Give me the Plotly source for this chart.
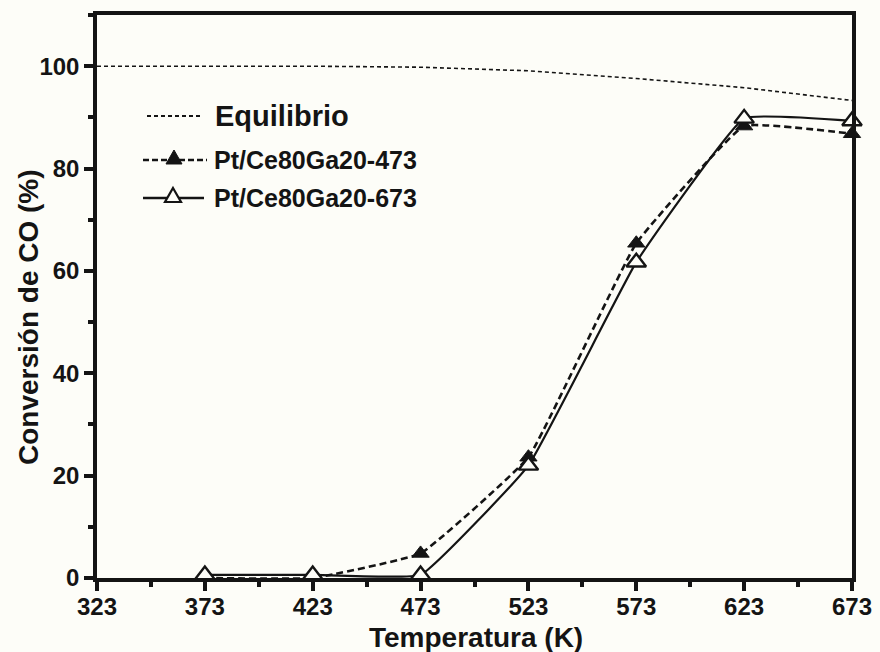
import plotly.graph_objects as go

# Temperature steps (K) and CO conversion (%) for each catalyst
temperatures = [373, 423, 473, 523, 573, 623, 673]
conv_pt_473 = [0.0, 0.0, 4.8, 23.6, 65.4, 88.3, 86.8]
conv_pt_673 = [0.6, 0.6, 0.6, 22.0, 61.7, 89.8, 89.3]

# Thermodynamic equilibrium conversion
eq_temperatures = [323, 373, 423, 473, 523, 573, 623, 673]
eq_conversion = [100.0, 100.0, 100.0, 99.8, 99.1, 97.6, 95.8, 93.3]

x_ticks = [323, 373, 423, 473, 523, 573, 623, 673]
y_ticks = [0, 20, 40, 60, 80, 100]

series_names = ["Equilibrio", "Pt/Ce80Ga20-473", "Pt/Ce80Ga20-673"]

BG = "#fdfdf8"
INK = "#141414"
FONT = "Liberation Sans, Arial, Helvetica, sans-serif"

fig = go.Figure()

fig.add_trace(go.Scatter(
    x=eq_temperatures, y=eq_conversion, mode="lines",
    line=dict(color=INK, width=1.6, dash="4px,3px"),
    name=series_names[0], showlegend=False, cliponaxis=True,
))

# Pt/Ce80Ga20-473: dashed line, filled triangles where conversion is measurable
fig.add_trace(go.Scatter(
    x=temperatures, y=conv_pt_473, mode="lines",
    line=dict(color=INK, width=2.6, dash="7px,4px", shape="spline", smoothing=0.3),
    showlegend=False, cliponaxis=True,
))
fig.add_trace(go.Scatter(
    x=[t for t, v in zip(temperatures, conv_pt_473) if v > 0],
    y=[v for v in conv_pt_473 if v > 0],
    mode="markers",
    marker=dict(symbol="triangle-up", size=15, color=INK, line=dict(color=INK, width=1)),
    name=series_names[1], showlegend=False, cliponaxis=False,
))

# Pt/Ce80Ga20-673: solid line, open triangles
fig.add_trace(go.Scatter(
    x=temperatures, y=conv_pt_673, mode="lines+markers",
    line=dict(color=INK, width=2.2, shape="spline", smoothing=0.3),
    marker=dict(symbol="triangle-up", size=17, color=BG, line=dict(color=INK, width=2.4)),
    name=series_names[2], showlegend=False, cliponaxis=False,
))

# Plot-area geometry in pixels, used to place the hand-built legend and axis titles
L, R, T, B = 97, 852, 15, 578


def px(x):
    return (x - L) / (R - L)


def py(y):
    return (B - y) / (B - T)


def tri_path(cx, cy, half_w=8, up=9, down=5):
    pts = [(cx, cy - up), (cx + half_w, cy + down), (cx - half_w, cy + down)]
    return "M " + " L ".join(f"{px(a):.5f},{py(b):.5f}" for a, b in pts) + " Z"


shapes = [
    dict(type="line", xref="paper", yref="paper", x0=px(147), x1=px(202), y0=py(116), y1=py(116),
         line=dict(color=INK, width=2, dash="4px,3px")),
    dict(type="line", xref="paper", yref="paper", x0=px(143), x1=px(207), y0=py(160), y1=py(160),
         line=dict(color=INK, width=2.4, dash="6px,3px")),
    dict(type="path", xref="paper", yref="paper", path=tri_path(174, 159),
         fillcolor=INK, line=dict(color=INK, width=1)),
    dict(type="line", xref="paper", yref="paper", x0=px(143), x1=px(204), y0=py(198), y1=py(198),
         line=dict(color=INK, width=2.4)),
    dict(type="path", xref="paper", yref="paper", path=tri_path(173, 197),
         fillcolor=BG, line=dict(color=INK, width=2.2)),
]

bold = lambda s: dict(size=s, family=FONT, color=INK, weight="bold")

annotations = [
    dict(x=px(213), y=py(116), xref="paper", yref="paper", text=series_names[0], showarrow=False,
         xanchor="left", yanchor="middle", font=bold(29)),
    dict(x=px(212), y=py(160), xref="paper", yref="paper", text=series_names[1], showarrow=False,
         xanchor="left", yanchor="middle", font=bold(25)),
    dict(x=px(212), y=py(198), xref="paper", yref="paper", text=series_names[2], showarrow=False,
         xanchor="left", yanchor="middle", font=bold(25)),
    dict(x=px(29), y=py(317), xref="paper", yref="paper", text="Conversión de CO (%)",
         showarrow=False, textangle=-90, xanchor="center", yanchor="middle", font=bold(28)),
    dict(x=px(476), y=py(637), xref="paper", yref="paper", text="Temperatura (K)",
         showarrow=False, xanchor="center", yanchor="middle", font=bold(28)),
]

axis_common = dict(
    showgrid=False, zeroline=False, showline=True, linewidth=3.5, linecolor=INK, mirror=True,
    ticks="outside", ticklen=9, tickwidth=3.5, tickcolor=INK,
    tickfont=bold(24), automargin=False,
)

fig.update_layout(
    width=880, height=652,
    margin=dict(l=L, r=880 - R, t=T, b=652 - B),
    paper_bgcolor=BG, plot_bgcolor=BG,
    font=dict(family=FONT, color=INK),
    shapes=shapes, annotations=annotations,
    xaxis=dict(
        range=[323, 673], tickvals=x_ticks, ticktext=[str(v) for v in x_ticks],
        ticklabelstandoff=-5,
        minor=dict(tickvals=[v + 25 for v in x_ticks[:-1]], ticks="outside", ticklen=5,
                   tickwidth=3.5, tickcolor=INK),
        **axis_common,
    ),
    yaxis=dict(
        range=[0, 110], tickvals=y_ticks, ticktext=[str(v) for v in y_ticks],
        minor=dict(tickvals=[10, 30, 50, 70, 90, 110], ticks="outside", ticklen=5,
                   tickwidth=3.5, tickcolor=INK),
        **axis_common,
    ),
)

fig.write_html("out.html")
